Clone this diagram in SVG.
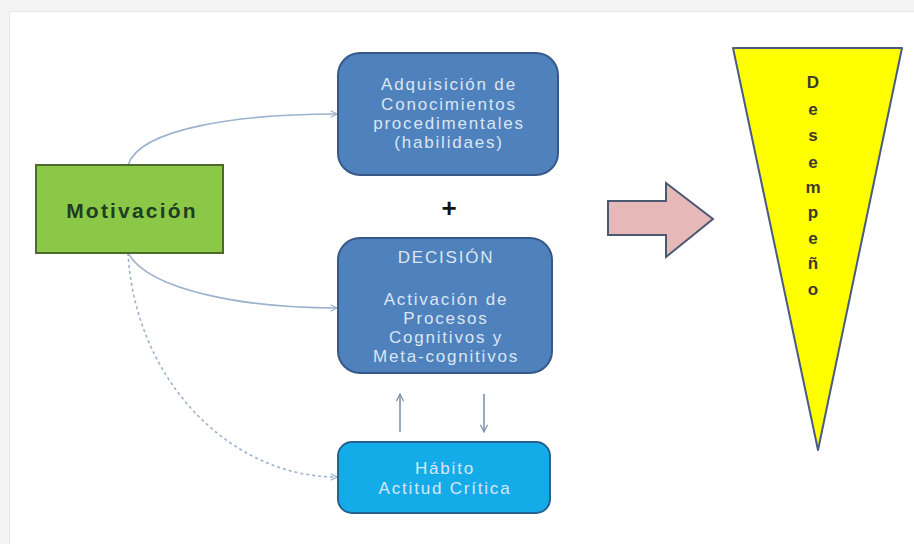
<svg xmlns="http://www.w3.org/2000/svg" width="914" height="544" viewBox="0 0 914 544">
  <style>
    .box-text { font-family: "Liberation Sans", Arial, sans-serif; font-size: 17px; letter-spacing: 1.8px; fill: #dbe6f4; text-anchor: middle; }
    .conn { fill: none; stroke: #9db2cc; stroke-width: 1.6; }
    .dash { stroke-dasharray: 3 3; }
    .vert { fill: none; stroke: #8293ad; stroke-width: 1.6; }
    .letter { font-family: "Liberation Sans", Arial, sans-serif; font-size: 17px; font-weight: bold; fill: #3a3a2a; text-anchor: middle; }
  </style>
  <defs>
    <marker id="chev" viewBox="0 0 10 10" refX="9" refY="5" markerWidth="8" markerHeight="8" markerUnits="userSpaceOnUse" orient="auto">
      <path d="M1,1 L9,5 L1,9" fill="none" stroke="#9db2cc" stroke-width="1.4"/>
    </marker>
    <marker id="chev2" viewBox="0 0 10 10" refX="9" refY="5" markerWidth="9" markerHeight="9" markerUnits="userSpaceOnUse" orient="auto">
      <path d="M1,1 L9,5 L1,9" fill="none" stroke="#8293ad" stroke-width="1.4"/>
    </marker>
  </defs>

  <!-- page frame -->
  <rect x="0" y="0" width="914" height="544" fill="#f4f4f4"/>
  <rect x="9" y="11" width="905" height="533" fill="#e9e9e9"/>
  <rect x="10" y="12" width="904" height="532" fill="#ffffff"/>

  <!-- connectors -->
  <g id="connectors">
    <path class="conn" d="M128,165 C140,128 240,114 337,114" marker-end="url(#chev)"/>
    <path class="conn" d="M128,253 C150,292 250,308 337,308" marker-end="url(#chev)"/>
    <path class="conn dash" d="M128,253 C135,380 230,477 337,477" marker-end="url(#chev)"/>
    <path class="vert" d="M400,432 L400,394" marker-end="url(#chev2)"/>
    <path class="vert" d="M484,394 L484,432" marker-end="url(#chev2)"/>
  </g>

  <!-- Motivación -->
  <g id="motivacion">
    <rect x="36" y="165" width="187" height="88" fill="#8cc847" stroke="#4e6a2a" stroke-width="2"/>
    <text x="132" y="218" font-family="'Liberation Sans', Arial, sans-serif" font-size="21px" font-weight="bold" letter-spacing="2.2" fill="#1f3d22" text-anchor="middle">Motivación</text>
  </g>

  <!-- Adquisición de conocimientos -->
  <g id="adquisicion">
    <rect x="338" y="53" width="220" height="122" rx="22" ry="22" fill="#4f81bd" stroke="#36598a" stroke-width="2"/>
    <text class="box-text" x="449" y="90">Adquisición de</text>
    <text class="box-text" x="449" y="110">Conocimientos</text>
    <text class="box-text" x="449" y="129">procedimentales</text>
    <text class="box-text" x="449" y="148">(habilidaes)</text>
  </g>

  <!-- plus sign -->
  <g id="plus">
    <text x="449" y="217" font-family="'Liberation Sans', Arial, sans-serif" font-size="26px" font-weight="bold" fill="#111" text-anchor="middle">+</text>
  </g>

  <!-- Decisión -->
  <g id="decision">
    <rect x="338" y="238" width="214" height="135" rx="22" ry="22" fill="#4f81bd" stroke="#36598a" stroke-width="2"/>
    <text class="box-text" x="446" y="263">DECISIÓN</text>
    <text class="box-text" x="446" y="305">Activación de</text>
    <text class="box-text" x="446" y="324">Procesos</text>
    <text class="box-text" x="446" y="343">Cognitivos y</text>
    <text class="box-text" x="446" y="362">Meta-cognitivos</text>
  </g>

  <!-- Hábito -->
  <g id="habito">
    <rect x="338" y="442" width="212" height="71" rx="14" ry="14" fill="#14ace8" stroke="#25628f" stroke-width="2"/>
    <text class="box-text" x="445" y="474">Hábito</text>
    <text class="box-text" x="445" y="494">Actitud Crítica</text>
  </g>

  <!-- block arrow -->
  <g id="flecha">
    <path d="M608,201 L666,201 L666,183 L713,219 L666,257 L666,235 L608,235 Z" fill="#e6b8b7" stroke="#4b5a72" stroke-width="2" stroke-linejoin="miter"/>
  </g>

  <!-- Desempeño -->
  <g id="desempeno">
    <path d="M733,48 L902,48 L818,450 Z" fill="#ffff00" stroke="#4a5a82" stroke-width="2" stroke-linejoin="round"/>
    <text class="letter" x="813" y="88">D</text>
    <text class="letter" x="813" y="115">e</text>
    <text class="letter" x="813" y="141">s</text>
    <text class="letter" x="813" y="168">e</text>
    <text class="letter" x="813" y="193">m</text>
    <text class="letter" x="813" y="218">p</text>
    <text class="letter" x="813" y="244">e</text>
    <text class="letter" x="813" y="269">ñ</text>
    <text class="letter" x="813" y="295">o</text>
  </g>
</svg>
